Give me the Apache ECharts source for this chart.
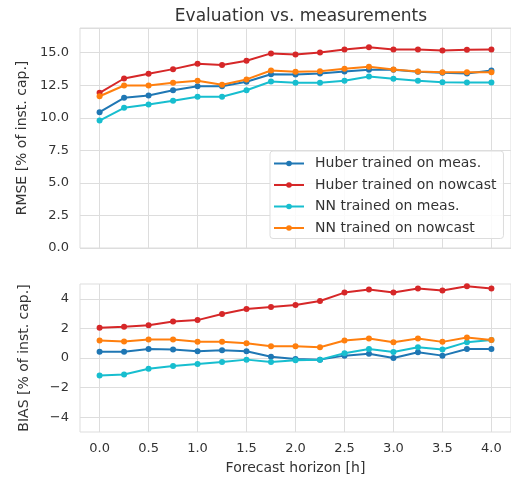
<!DOCTYPE html>
<html>
<head>
<meta charset="utf-8">
<script src="https://cdn.jsdelivr.net/npm/echarts@6/dist/echarts.min.js"></script>
<style>
  html, body { margin: 0; padding: 0; background: #ffffff; }
  #chart { width: 511px; height: 479px; }
</style>
</head>
<body>
<div id="chart"></div>
<script>
// Forecast horizon in hours
const horizon = [0.0, 0.25, 0.5, 0.75, 1.0, 1.25, 1.5, 1.75, 2.0, 2.25, 2.5, 2.75, 3.0, 3.25, 3.5, 3.75, 4.0];
const xTicks = [0.0, 0.5, 1.0, 1.5, 2.0, 2.5, 3.0, 3.5, 4.0];
const biasTicks = [-4, -2, 0, 2, 4];

const seriesNames = ['Huber trained on meas.', 'Huber trained on nowcast', 'NN trained on meas.', 'NN trained on nowcast'];
const seriesColors = ['#1f77b4', '#d62728', '#17becf', '#ff7f0e'];

// RMSE [% of installed capacity]
const rmseHuberMeas    = [10.43, 11.54, 11.72, 12.12, 12.43, 12.43, 12.77, 13.35, 13.33, 13.41, 13.56, 13.69, 13.69, 13.54, 13.46, 13.41, 13.64];
const rmseHuberNowcast = [11.92, 13.02, 13.38, 13.74, 14.15, 14.05, 14.38, 14.95, 14.87, 15.02, 15.25, 15.43, 15.25, 15.25, 15.18, 15.23, 15.25];
const rmseNNMeas       = [9.79, 10.77, 11.02, 11.31, 11.62, 11.62, 12.12, 12.79, 12.69, 12.69, 12.85, 13.18, 13.00, 12.85, 12.74, 12.72, 12.72];
const rmseNNNowcast    = [11.66, 12.48, 12.48, 12.69, 12.85, 12.54, 12.95, 13.64, 13.54, 13.58, 13.77, 13.92, 13.72, 13.56, 13.51, 13.51, 13.51];

// BIAS [% of installed capacity]
const biasHuberMeas    = [0.43, 0.43, 0.61, 0.57, 0.45, 0.52, 0.45, 0.09, -0.07, -0.11, 0.16, 0.29, 0.00, 0.39, 0.16, 0.61, 0.61];
const biasHuberNowcast = [2.04, 2.11, 2.22, 2.47, 2.56, 2.97, 3.31, 3.45, 3.58, 3.85, 4.42, 4.63, 4.42, 4.69, 4.56, 4.85, 4.69];
const biasNNMeas       = [-1.18, -1.11, -0.73, -0.54, -0.41, -0.27, -0.11, -0.27, -0.16, -0.11, 0.32, 0.61, 0.41, 0.73, 0.57, 1.07, 1.22];
const biasNNNowcast    = [1.18, 1.11, 1.25, 1.25, 1.09, 1.09, 1.00, 0.79, 0.79, 0.73, 1.18, 1.32, 1.07, 1.32, 1.09, 1.38, 1.22];

const rmseData = [rmseHuberMeas, rmseHuberNowcast, rmseNNMeas, rmseNNNowcast];
const biasData = [biasHuberMeas, biasHuberNowcast, biasNNMeas, biasNNNowcast];

const FONT = 'DejaVu Sans';
const TEXT = '#333333';
const GRIDC = '#dddddd';

function pairs(ys) {
  return horizon.map((h, i) => [h, ys[i]]);
}

function makeSeries(values, axisIndex) {
  return values.map((ys, k) => ({
    name: seriesNames[k],
    type: 'line',
    xAxisIndex: axisIndex,
    yAxisIndex: axisIndex,
    data: pairs(ys),
    symbol: 'circle',
    symbolSize: 6,
    color: seriesColors[k],
    lineStyle: { width: 2, color: seriesColors[k] },
    itemStyle: { color: seriesColors[k] },
    emphasis: { disabled: true },
    animation: false,
    z: 2 + k
  }));
}

function xAxis(gridIndex, withLabels) {
  return {
    type: 'value',
    gridIndex: gridIndex,
    min: -0.2,
    max: 4.2,
    axisLine: { show: false },
    axisTick: { show: false, customValues: xTicks },
    axisLabel: {
      show: withLabels,
      customValues: xTicks,
      formatter: v => v.toFixed(1),
      color: TEXT, fontFamily: FONT, fontSize: 13, margin: 10
    },
    splitLine: { show: true, lineStyle: { color: GRIDC, width: 1 } },
    name: withLabels ? 'Forecast horizon [h]' : '',
    nameLocation: 'middle',
    nameGap: 29,
    nameTextStyle: { color: TEXT, fontFamily: FONT, fontSize: 14 }
  };
}

const option = {
  backgroundColor: '#ffffff',
  animation: false,
  title: {
    text: 'Evaluation vs. measurements',
    left: 296,
    textAlign: 'center',
    top: 3,
    textStyle: { color: TEXT, fontFamily: FONT, fontSize: 17, fontWeight: 'normal' }
  },
  legend: {
    data: seriesNames,
    orient: 'vertical',
    left: 270,
    top: 151,
    itemWidth: 30,
    itemHeight: 7,
    itemGap: 7.5,
    padding: [5.5, 7, 3.5, 3],
    backgroundColor: 'rgba(255,255,255,0.85)',
    borderColor: '#dddddd',
    borderWidth: 1,
    borderRadius: 3,
    textStyle: { color: TEXT, fontFamily: FONT, fontSize: 14, padding: [0, 0, 0, 6] }
  },
  grid: [
    { left: 80, top: 28, width: 432, height: 220, show: true, borderColor: GRIDC, borderWidth: 1, backgroundColor: 'transparent' },
    { left: 80, top: 284, width: 432, height: 148, show: true, borderColor: GRIDC, borderWidth: 1, backgroundColor: 'transparent' }
  ],
  xAxis: [xAxis(0, false), xAxis(1, true)],
  yAxis: [
    {
      type: 'value', gridIndex: 0,
      min: 0, max: 16.9, interval: 2.5,
      axisLine: { show: false }, axisTick: { show: false },
      axisLabel: { color: TEXT, fontFamily: FONT, fontSize: 13, margin: 11, showMaxLabel: false, formatter: v => v.toFixed(1) },
      splitLine: { show: true, lineStyle: { color: GRIDC, width: 1 } },
      name: 'RMSE [% of inst. cap.]',
      nameLocation: 'middle', nameGap: 49,
      nameTextStyle: { color: TEXT, fontFamily: FONT, fontSize: 14 }
    },
    {
      type: 'value', gridIndex: 1,
      min: -5, max: 5,
      axisLine: { show: false },
      axisTick: { show: false, customValues: biasTicks },
      axisLabel: { color: TEXT, fontFamily: FONT, fontSize: 13, margin: 11, customValues: biasTicks, formatter: v => (v < 0 ? '\u2212' + Math.abs(v) : String(v)) },
      splitLine: { show: true, lineStyle: { color: GRIDC, width: 1 } },
      name: 'BIAS [% of inst. cap.]',
      nameLocation: 'middle', nameGap: 49,
      nameTextStyle: { color: TEXT, fontFamily: FONT, fontSize: 14 }
    }
  ],
  series: makeSeries(rmseData, 0).concat(makeSeries(biasData, 1))
};

const chart = echarts.init(document.getElementById('chart'), null, { renderer: 'canvas' });
chart.setOption(option);
</script>
</body>
</html>
